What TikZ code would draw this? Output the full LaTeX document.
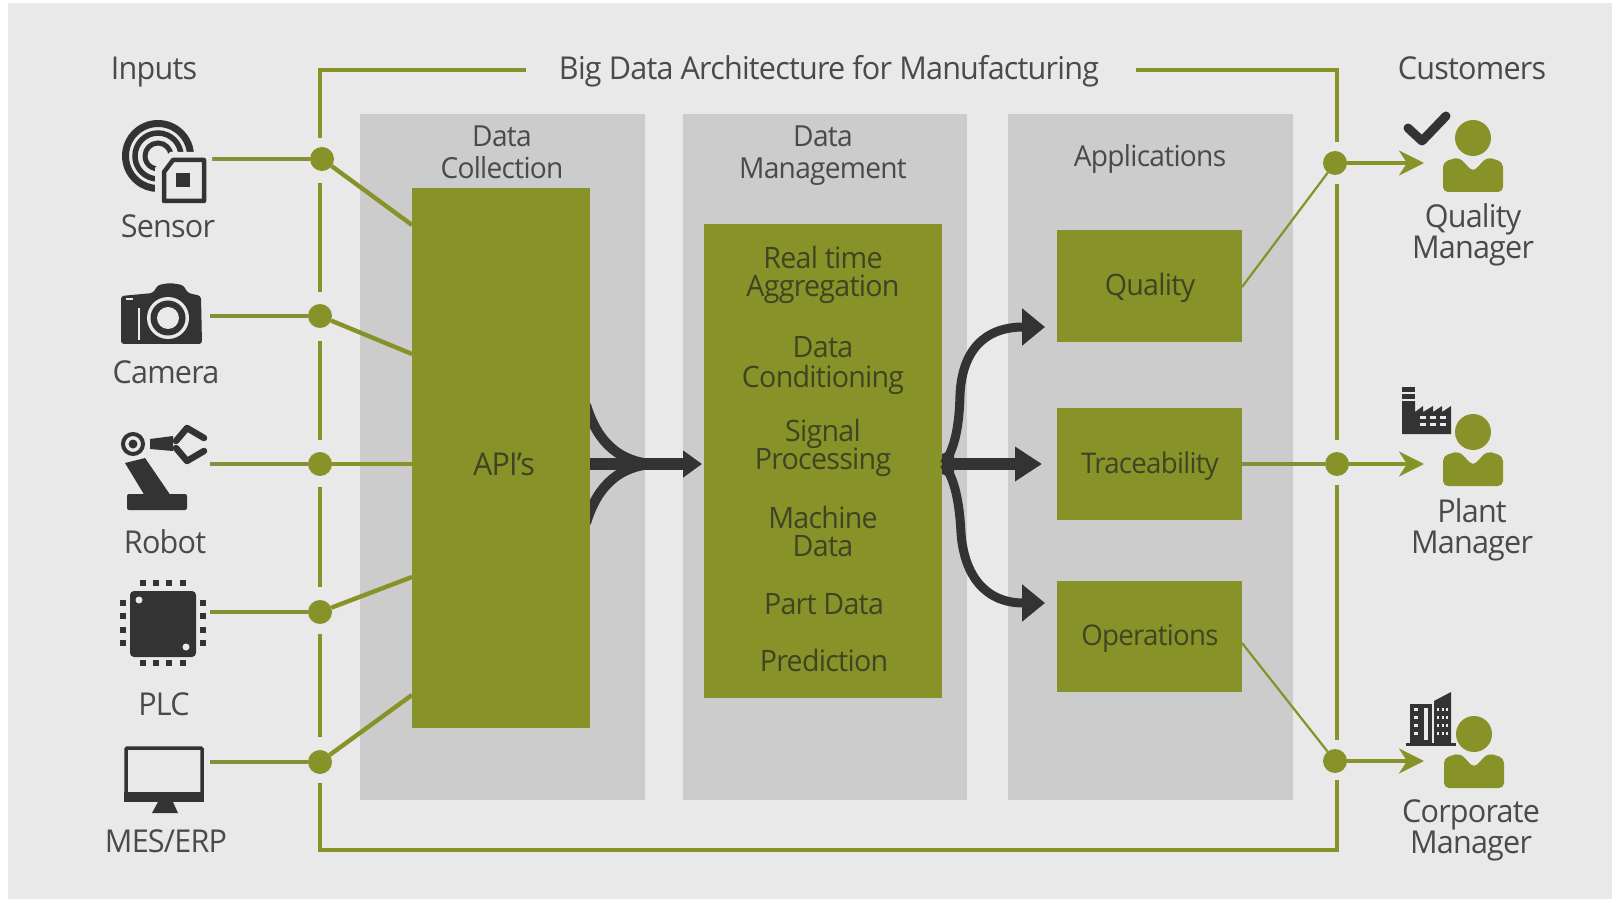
\documentclass[tikz,border=0pt]{standalone}
\usepackage{fontspec}
\setmainfont{Open Sans}[FakeStretch=0.97,LetterSpace=-2.5]
\usetikzlibrary{arrows.meta}
\definecolor{olive}{HTML}{879229}
\definecolor{bggray}{HTML}{E9E9E9}
\definecolor{panelgray}{HTML}{CCCCCC}
\definecolor{ink}{HTML}{333333}
\definecolor{txt}{HTML}{4A4A4A}
\definecolor{txtg}{HTML}{3F4522}
\tikzset{
  panel/.style={fill=panelgray,draw=none,inner sep=0,outer sep=0},
  greenbox/.style={fill=olive,draw=none,inner sep=0,outer sep=0},
  junction/.style={circle,fill=olive,draw=none,minimum size=24pt,inner sep=0,outer sep=0},
  label/.style={text=txt,font=\fontsize{31.5}{31.5}\selectfont,inner sep=0,anchor=base},
  plabel/.style={text=txt,font=\fontsize{29}{29}\selectfont,inner sep=0,anchor=base},
  glabel/.style={text=txtg,font=\fontsize{29.5}{29.5}\selectfont,inner sep=0,anchor=base},
  frameline/.style={draw=olive,line width=3.4pt},
  feed/.style={draw=olive!85!gray,line width=3.4pt},
  link/.style={draw=olive,line width=4.4pt},
  thinlink/.style={draw=olive,line width=2.2pt},
  outarrow/.style={draw=olive,line width=4pt,-{Stealth[length=25pt,width=25pt,inset=8pt]}},
  flow/.style={draw=ink,line width=10pt},
  icon/.style={fill=ink,draw=none},
  iconline/.style={draw=ink,line cap=round,line join=round},
  person/.style={fill=olive,draw=none},
}
\newcommand{\personicon}[2]{%
  \fill[person] (#1,#2-26) circle (18);
  \fill[person,rounded corners=5pt] (#1-30,#2+28) -- (#1-30,#2-2) -- (#1-14,#2-7) -- (#1,#2+8) -- (#1+14,#2-7) -- (#1+30,#2-2) -- (#1+30,#2+28) -- cycle;
}
\begin{document}
\begin{tikzpicture}[x=1pt,y=-1pt]
\useasboundingbox (0,0) rectangle (1612,901);
\fill[white] (0,0) rectangle (1612,901);
\fill[bggray] (8,3) rectangle (1612,899);

% panels
\node[panel,minimum width=285pt,minimum height=686pt] (p1) at (502.5,457) {};
\node[panel,minimum width=284pt,minimum height=686pt] (p2) at (824.5,457) {};
\node[panel,minimum width=285pt,minimum height=686pt] (p3) at (1150.5,457) {};

% flow arrows behind boxes
\coordinate (m1) at (586,405);
\coordinate (m2) at (586,523);
\coordinate (m0) at (585,464);
\coordinate (mj) at (652,464);
\coordinate (mtip) at (702,464);
\draw[flow] (m1) .. controls (598,445) and (622,462) .. (mj);
\draw[flow] (m2) .. controls (598,483) and (622,466) .. (mj);

% boxes
\node[greenbox,minimum width=178pt,minimum height=540pt] (api) at (501,458) {};
\node[greenbox,minimum width=238pt,minimum height=474pt] (dm) at (823,461) {};
\node[greenbox,minimum width=185pt,minimum height=112pt] (q) at (1149.5,286) {};
\node[greenbox,minimum width=185pt,minimum height=112pt] (t) at (1149.5,464) {};
\node[greenbox,minimum width=185pt,minimum height=111pt] (o) at (1149.5,636.5) {};

% dark arrows
\draw[draw=ink,line width=12pt,-{Triangle[length=19pt,width=26pt]}] (api.east |- m0) -- (mtip);
\coordinate (s0) at (944,464);
\coordinate (qin) at (1045,327);
\coordinate (oin) at (1045,603);
\coordinate (tin) at (1042,464);
\fill[ink] (942,454) -- (954,449) -- (954,479) -- (942,474) -- cycle;
\draw[draw=ink,line width=12pt,-{Triangle[length=27pt,width=33pt]}] (s0) -- (tin);
\draw[draw=ink,line width=9pt,-{Triangle[length=23pt,width=36pt]}] (s0) .. controls (952,452) and (959,435) .. (960,395) .. controls (962,350) and (985,327) .. (qin);
\draw[draw=ink,line width=9pt,-{Triangle[length=23pt,width=36pt]}] (s0) .. controls (952,476) and (959,493) .. (961,533) .. controls (964,575) and (985,603) .. (oin);

% frame
\coordinate (ft1) at (526,70);
\coordinate (ft2) at (1136,70);
\coordinate (ftl) at (320,70);
\coordinate (ftr) at (1337,70);
\coordinate (fbl) at (320,850);
\coordinate (fbr) at (1337,850);

% junctions
\node[junction] (j1) at (322,159) {};
\node[junction] (j2) at (320,316) {};
\node[junction] (j3) at (320,464) {};
\node[junction] (j4) at (320,612) {};
\node[junction] (j5) at (320,762) {};
\node[junction] (r1) at (1335,163) {};
\node[junction] (r2) at (1337,464) {};
\node[junction] (r3) at (1335,761) {};

\draw[frameline] (ft1) -- (ftl) -- (320,138);
\draw[frameline] (320,183) -- (320,292);
\draw[frameline] (320,341) -- (320,440);
\draw[frameline] (320,487) -- (320,587);
\draw[frameline] (320,634) -- (320,737);
\draw[frameline] (320,783) -- (fbl) -- (fbr) -- (1337,780);
\draw[frameline] (1337,740) -- (1337,485);
\draw[frameline] (1337,440) -- (1337,184);
\draw[frameline] (1337,142) -- (ftr) -- (ft2);

% input feeds
\coordinate (i1) at (212,159);
\coordinate (i2) at (210,316);
\coordinate (i3) at (210,464);
\coordinate (i4) at (210,612);
\coordinate (i5) at (210,762);
\draw[feed] (i1) -- (j1);
\draw[feed] (i2) -- (j2);
\draw[feed] (i3) -- (j3);
\draw[feed] (i4) -- (j4);
\draw[feed] (i5) -- (j5);
\coordinate (a1) at (412,225);
\coordinate (a2) at (412,354);
\coordinate (a3) at (412,464);
\coordinate (a4) at (412,577);
\coordinate (a5) at (412,695);
\draw[link] (j1) -- (a1);
\draw[link] (j2) -- (a2);
\draw[link] (j3) -- (a3);
\draw[link] (j4) -- (a4);
\draw[link] (j5) -- (a5);

% outputs
\coordinate (qo) at (1242,287);
\coordinate (to) at (1242,464);
\coordinate (oo) at (1242,643);
\draw[thinlink] (qo) -- (r1);
\draw[feed] (to) -- (r2);
\draw[thinlink] (oo) -- (r3);
\coordinate (c1) at (1424,163);
\coordinate (c2) at (1424,464);
\coordinate (c3) at (1424,761);
\draw[outarrow] (r1) -- (c1);
\draw[outarrow] (r2) -- (c2);
\draw[outarrow] (r3) -- (c3);

% sensor icon
\draw[ink,line width=7pt] (158,156) ++(0:32.5) arc (0:-280:32.5);
\draw[ink,line width=5.5pt] (158,156) ++(0:23) arc (0:-280:23);
\draw[ink,line width=5pt] (158,156) ++(0:13) arc (0:-280:13);
\fill[bggray] (155,168) -- (170,152) -- (212,152) -- (212,208) -- (155,208) -- cycle;
\draw[ink,line width=4.5pt,line join=round] (164,172) -- (173,160) -- (204,160) -- (204,201) -- (164,201) -- cycle;
\fill[ink] (176,173) rectangle (190,187);

% camera icon
\fill[icon,rounded corners=3pt] (121,344) -- (121,296) -- (153,293) -- (158,285) -- (170,283) -- (183,285) -- (188,293) -- (201,296) -- (202,344) -- cycle;
\fill[bggray] (168,318) circle (21);
\fill[ink] (168,318) circle (17.5);
\fill[bggray] (168,318) circle (11);
\draw[bggray,line width=1.5pt] (139,308) -- (139,340);
\fill[bggray] (126,298) rectangle (133,300);

% robot icon
\fill[icon,rounded corners=2pt] (127,494) rectangle (187,510);
\fill[icon] (125,463) -- (145,458) -- (171,496) -- (145,496) -- cycle;
\draw[ink,line width=4pt] (133,444) circle (10);
\fill[ink] (133,444) circle (4.5);
\fill[icon] (150,439) -- (173,436) -- (173,451) -- (150,449) -- cycle;
\draw[iconline,line width=6.5pt] (176,441) -- (187,428) -- (204,438);
\draw[iconline,line width=6.5pt] (176,448) -- (187,461) -- (204,451);

% PLC icon
\fill[icon,rounded corners=4pt] (130,591) rectangle (196,657);
\fill[bggray] (139,600) circle (3.5);
\fill[bggray] (186,647) circle (3.5);
\foreach \p in {143,156,169,183}{\fill[ink] (\p-3,580) rectangle (\p+3,586);\fill[ink] (\p-3,660) rectangle (\p+3,666);}
\foreach \p in {603,616,630,643}{\fill[ink] (120,\p-3) rectangle (126,\p+3);\fill[ink] (200,\p-3) rectangle (206,\p+3);}

% monitor icon
\draw[ink,line width=3.5pt,rounded corners=1pt] (126,748) rectangle (202,795);
\fill[ink] (124,792) rectangle (204,802);
\fill[ink] (158,802) -- (173,802) -- (178,813) -- (152,813) -- cycle;

% persons
\personicon{1473}{164}
\personicon{1473}{458}
\personicon{1474}{760}

% checkmark
\draw[iconline,line width=9pt] (1408,128) -- (1422,141) -- (1446,116);

% factory
\fill[icon] (1402,434) -- (1402,401) -- (1415,401) -- (1415,412) -- (1423,406) -- (1423,412) -- (1433,406) -- (1433,412) -- (1442,406) -- (1442,412) -- (1451,406) -- (1451,434) -- cycle;
\fill[icon] (1402,387) rectangle (1415,392);
\fill[icon] (1402,394) rectangle (1415,399);
\foreach \p in {1423,1433,1443}{\fill[bggray] (\p-3,416) rectangle (\p+3,419);\fill[bggray] (\p-3,423) rectangle (\p+3,426);}

% building
\fill[icon] (1406,743) rectangle (1456,746);
\fill[icon] (1410,704) rectangle (1432,744);
\fill[icon] (1434,701) -- (1451,692) -- (1451,744) -- (1434,744) -- cycle;
\fill[bggray] (1424,708) rectangle (1428,740);
\foreach \yy in {708,716,724,732}{\fill[bggray] (1414,\yy) rectangle (1418,\yy+3);
  \foreach \xx in {1438,1443,1447}{\fill[bggray] (\xx-1,\yy) rectangle (\xx+1,\yy+3);}}

% labels
\node[label] (tInputs) at (154,80) {Inputs};
\node[label] (tTitle) at (829,80) {Big Data Architecture for Manufacturing};
\node[label] (tCust) at (1472,80) {Customers};
\node[label] (tSensor) at (168,238) {Sensor};
\node[label] (tCamera) at (166,383) {Camera};
\node[label] (tRobot) at (165,553) {Robot};
\node[label] (tPLC) at (164,715) {PLC};
\node[label] (tMes) at (166,852) {MES/ERP};
\node[label] (tQ1) at (1473,228) {Quality};
\node[label] (tQ2) at (1473,259) {Manager};
\node[label] (tP1) at (1472,522) {Plant};
\node[label] (tP2) at (1472,553) {Manager};
\node[label] (tC1) at (1471,822) {Corporate};
\node[label] (tC2) at (1471,853) {Manager};
\node[plabel] (tD1) at (502,147) {Data};
\node[plabel] (tD2) at (502,179) {Collection};
\node[plabel] (tM1) at (823,147) {Data};
\node[plabel] (tM2) at (823,179) {Management};
\node[plabel] (tApps) at (1150,167) {Applications};
\node[label] (tApi) at (504,475) {\textcolor{txtg}{API's}};
\node[glabel] (d1) at (823,269) {Real time};
\node[glabel] (d2) at (823,297) {Aggregation};
\node[glabel] (d3) at (823,358) {Data};
\node[glabel] (d4) at (823,387) {Conditioning};
\node[glabel] (d5) at (823,441) {Signal};
\node[glabel] (d6) at (823,469) {Processing};
\node[glabel] (d7) at (823,528) {Machine};
\node[glabel] (d8) at (823,556) {Data};
\node[glabel] (d9) at (824,614) {Part Data};
\node[glabel] (d10) at (824,671) {Prediction};
\node[glabel] (tq) at (1150,296) {Quality};
\node[glabel,font=\fontsize{28.5}{28.5}\selectfont] (tt) at (1150,473) {Traceability};
\node[glabel,font=\fontsize{28.5}{28.5}\selectfont] (to2) at (1150,645) {Operations};
\end{tikzpicture}
\end{document}
